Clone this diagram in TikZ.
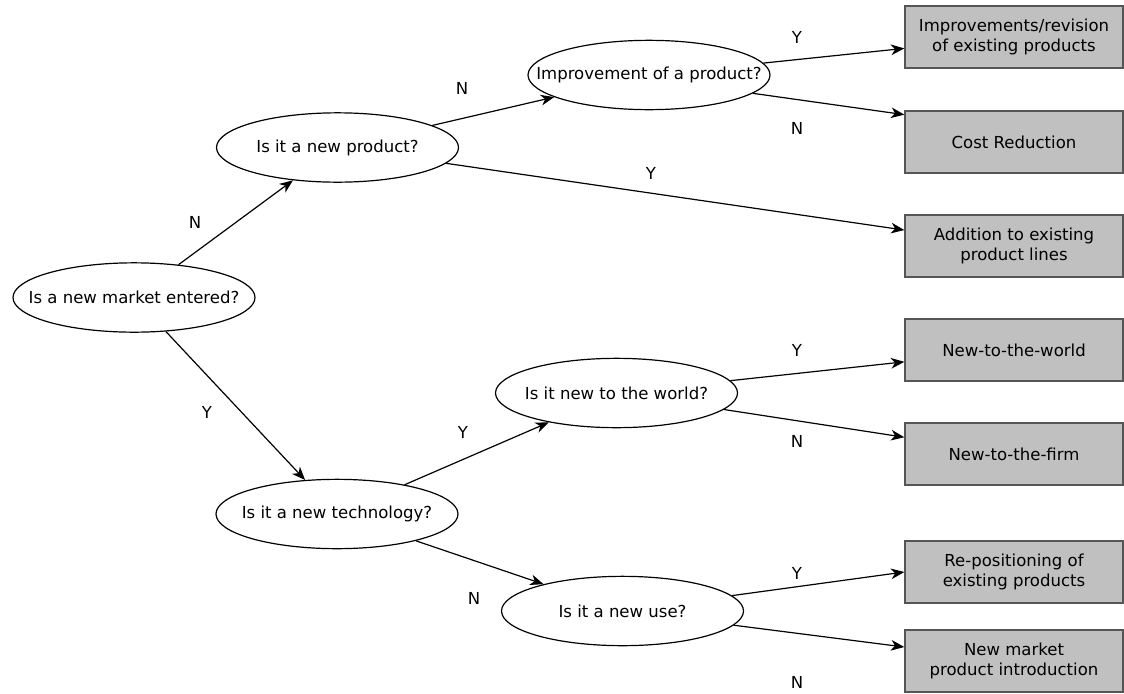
\documentclass[tikz,border=0pt]{standalone}
\usepackage{fontspec}
\setmainfont{DejaVu Sans}
\usetikzlibrary{shapes.geometric, arrows.meta}
\definecolor{boxgray}{RGB}{192, 192, 192}
\definecolor{edgegray}{RGB}{85, 85, 85}

\begin{document}
\begin{tikzpicture}[x=0.75pt, y=-0.75pt,
    every node/.style={font=\fontsize{12.4}{15}\selectfont},
    question/.style={ellipse, draw=black, line width=0.9pt, fill=white,
                     minimum width=181.5pt, minimum height=52pt, inner sep=0pt},
    outcome/.style={rectangle, draw=edgegray, line width=1pt, fill=boxgray,
                    minimum width=163.5pt, minimum height=46.5pt,
                    inner sep=0pt, align=center},
    link/.style={-{Stealth[length=10pt, width=8pt, inset=3pt]}, line width=0.9pt},
    answer/.style={inner sep=0pt}
]
\useasboundingbox (0,0) rectangle (1124,693);

%% Questions
\node[question] (market)  at (134,  297.5) {\makebox[0pt]{Is a new market entered?}};
\node[question] (product) at (337.5,147.5) {\makebox[0pt]{Is it a new product?}};
\node[question] (improve) at (649,  75)    {\makebox[0pt]{Improvement of a product?}};
\node[question] (world)   at (616.5,393)   {\makebox[0pt]{Is it new to the world?}};
\node[question] (tech)    at (337,  514)   {\makebox[0pt]{Is it a new technology?}};
\node[question] (use)     at (622.5,611)   {\makebox[0pt]{Is it a new use?}};

%% Outcomes
\node[outcome] (revise)   at (1014, 37)  {Improvements/revision\\of existing products};
\node[outcome] (cost)     at (1014, 142) {Cost Reduction};
\node[outcome] (addition) at (1014, 246) {Addition to existing\\product lines};
\node[outcome] (ntw)      at (1014, 350) {New-to-the-world};
\node[outcome] (ntf)      at (1014, 454) {New-to-the-firm};
\node[outcome] (repos)    at (1014, 572) {Re-positioning of\\existing products};
\node[outcome] (newmkt)   at (1014, 661) {New market\\product introduction};

%% Branches
\draw[link] (market) -- (product);
\draw[link] (market) -- (tech);
\draw[link] (product) -- (improve);
\draw[link] (product) -- (addition);
\draw[link] (improve) -- (revise);
\draw[link] (improve.350) -- (cost.166);
\draw[link] (tech) -- (world);
\draw[link] (tech) -- (use);
\draw[link] (world) -- (ntw);
\draw[link] (world) -- (ntf);
\draw[link] (use.8) -- (repos.180);
\draw[link] (use) -- (newmkt);

%% Answers
\node[answer] (a1)  at (195, 222) {N};
\node[answer] (a2)  at (207, 412) {Y};
\node[answer] (a3)  at (462, 88)  {N};
\node[answer] (a4)  at (651, 173) {Y};
\node[answer] (a5)  at (797, 37)  {Y};
\node[answer] (a6)  at (797, 128) {N};
\node[answer] (a7)  at (463, 432) {Y};
\node[answer] (a8)  at (474, 598) {N};
\node[answer] (a9)  at (797, 350) {Y};
\node[answer] (a10) at (797, 441) {N};
\node[answer] (a11) at (797, 573) {Y};
\node[answer] (a12) at (797, 682) {N};

\end{tikzpicture}
\end{document}
